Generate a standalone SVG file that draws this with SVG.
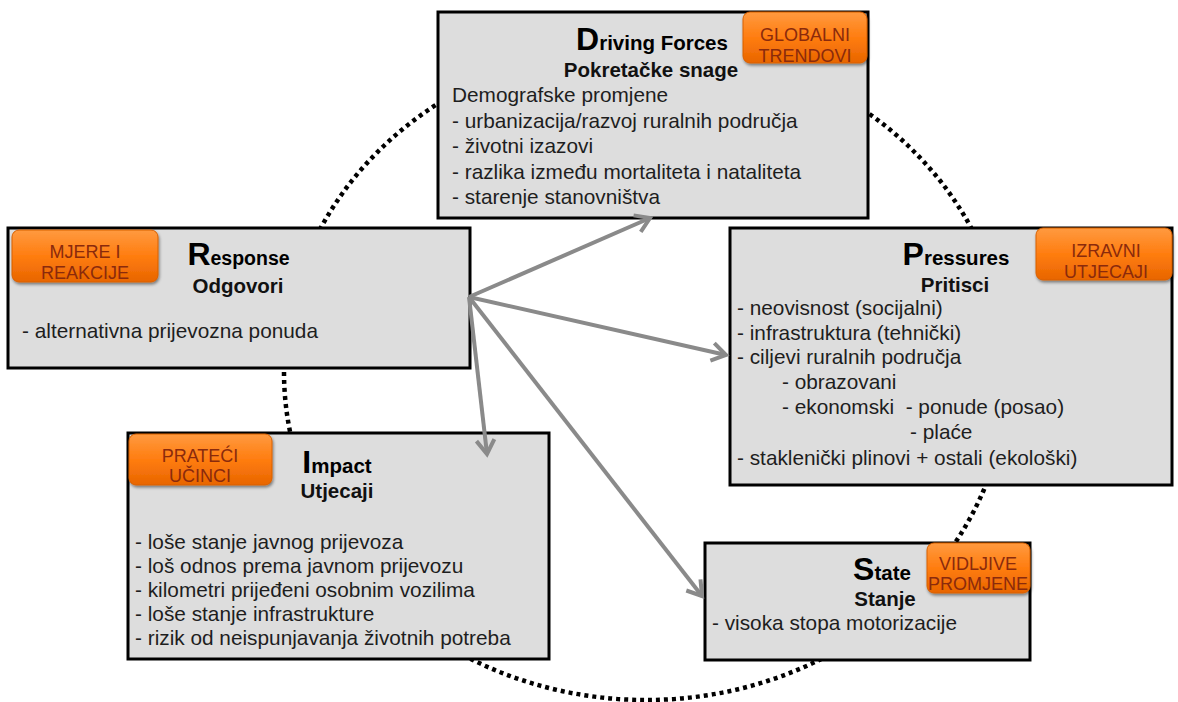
<svg xmlns="http://www.w3.org/2000/svg" width="1178" height="702" viewBox="0 0 1178 702">
<style>
.box{fill:#dddddd;stroke:#000;stroke-width:3}
.tag{fill:url(#og);stroke:#d86000;stroke-width:1;filter:url(#sh)}
.tt{font-family:"Liberation Sans",Arial,sans-serif;font-size:18px;fill:#8a2a0c;text-anchor:middle}
.big{font-family:"Liberation Sans",Arial,sans-serif;font-weight:bold;fill:#000;text-anchor:middle}
.sub{font-family:"Liberation Sans",Arial,sans-serif;font-weight:bold;font-size:20.5px;fill:#111;text-anchor:middle}
.body{font-family:"Liberation Sans",Arial,sans-serif;font-size:20.8px;fill:#1e1e1e}
.conn{stroke:#8a8a8a;stroke-width:4;fill:none;marker-end:url(#ah)}
.ring{fill:none;stroke:#000;stroke-width:4.5;stroke-dasharray:4 4}
</style>
<defs>
<linearGradient id="og" x1="0" y1="0" x2="0" y2="1">
<stop offset="0" stop-color="#ff9a40"/>
<stop offset="0.5" stop-color="#ff7d10"/>
<stop offset="1" stop-color="#e86500"/>
</linearGradient>
<filter id="sh" x="-10%" y="-10%" width="130%" height="140%">
<feDropShadow dx="1" dy="2" stdDeviation="1.5" flood-color="#000" flood-opacity="0.45"/>
</filter>
<marker id="ah" markerUnits="userSpaceOnUse" viewBox="-18 -12 22 24" markerWidth="22" markerHeight="24" refX="0" refY="0" orient="auto" overflow="visible">
<path d="M-14,-9 L0,0 L-14,9" fill="none" stroke="#8a8a8a" stroke-width="4" stroke-linejoin="miter"/>
</marker>
</defs>
<rect width="1178" height="702" fill="#fff"/>
<ellipse class="ring" cx="646" cy="372" rx="362" ry="328"/>

<g id="driving-forces">
<rect class="box" x="438" y="12" width="430" height="206"/>
<rect class="tag" x="743" y="12" width="124" height="51" rx="7"/>
<text class="tt" x="805" y="41">GLOBALNI</text>
<text class="tt" x="805" y="62">TRENDOVI</text>
<text class="big" x="652" y="50"><tspan font-size="32">D</tspan><tspan font-size="20.5">riving Forces</tspan></text>
<text class="sub" x="651" y="77">Pokretačke snage</text>
<text class="body" x="452" y="102">Demografske promjene</text>
<text class="body" x="452" y="127.5">- urbanizacija/razvoj ruralnih područja</text>
<text class="body" x="452" y="153">- životni izazovi</text>
<text class="body" x="452" y="178.5">- razlika između mortaliteta i nataliteta</text>
<text class="body" x="452" y="204">- starenje stanovništva</text>
</g>

<g id="response">
<rect class="box" x="8" y="228" width="462" height="140"/>
<rect class="tag" x="12" y="230" width="146" height="52" rx="7"/>
<text class="tt" x="85" y="258">MJERE I</text>
<text class="tt" x="85" y="279">REAKCIJE</text>
<text class="big" x="238.5" y="265"><tspan font-size="32">R</tspan><tspan font-size="19.5">esponse</tspan></text>
<text class="sub" x="238" y="293">Odgovori</text>
<text class="body" x="22" y="338">- alternativna prijevozna ponuda</text>
</g>

<g id="pressures">
<rect class="box" x="730" y="228" width="442" height="257"/>
<rect class="tag" x="1036" y="228" width="136" height="52" rx="7"/>
<text class="tt" x="1106" y="257">IZRAVNI</text>
<text class="tt" x="1106" y="278">UTJECAJI</text>
<text class="big" x="956" y="265"><tspan font-size="32">P</tspan><tspan font-size="20.5">ressures</tspan></text>
<text class="sub" x="955" y="292">Pritisci</text>
<text class="body" x="737" y="315">- neovisnost (socijalni)</text>
<text class="body" x="737" y="340">- infrastruktura (tehnički)</text>
<text class="body" x="737" y="364">- ciljevi ruralnih područja</text>
<text class="body" x="782" y="389">- obrazovani</text>
<text class="body" x="782" y="414" xml:space="preserve">- ekonomski  - ponude (posao)</text>
<text class="body" x="910" y="439">- plaće</text>
<text class="body" x="737" y="465">- staklenički plinovi + ostali (ekološki)</text>
</g>

<g id="impact">
<rect class="box" x="128" y="433" width="421" height="226"/>
<rect class="tag" x="129" y="434" width="143" height="51" rx="7"/>
<text class="tt" x="200" y="462">PRATEĆI</text>
<text class="tt" x="200" y="482">UČINCI</text>
<text class="big" x="337" y="473"><tspan font-size="32">I</tspan><tspan font-size="20.5">mpact</tspan></text>
<text class="sub" x="337" y="498">Utjecaji</text>
<text class="body" x="135" y="549">- loše stanje javnog prijevoza</text>
<text class="body" x="135" y="573">- loš odnos prema javnom prijevozu</text>
<text class="body" x="135" y="597">- kilometri prijeđeni osobnim vozilima</text>
<text class="body" x="135" y="621">- loše stanje infrastrukture</text>
<text class="body" x="135" y="645">- rizik od neispunjavanja životnih potreba</text>
</g>

<g id="state">
<rect class="box" x="705" y="543" width="325" height="117"/>
<rect class="tag" x="927" y="543" width="103" height="50" rx="7"/>
<text class="tt" x="978" y="570">VIDLJIVE</text>
<text class="tt" x="978" y="590">PROMJENE</text>
<text class="big" x="882" y="580"><tspan font-size="32">S</tspan><tspan font-size="20.5">tate</tspan></text>
<text class="sub" x="885" y="606">Stanje</text>
<text class="body" x="712" y="630">- visoka stopa motorizacije</text>
</g>

<g id="connectors">
<line class="conn" x1="469" y1="297" x2="650" y2="218"/>
<line class="conn" x1="469" y1="297" x2="726" y2="355"/>
<line class="conn" x1="469" y1="297" x2="487" y2="454"/>
<line class="conn" x1="469" y1="297" x2="702" y2="596"/>
</g>
</svg>
